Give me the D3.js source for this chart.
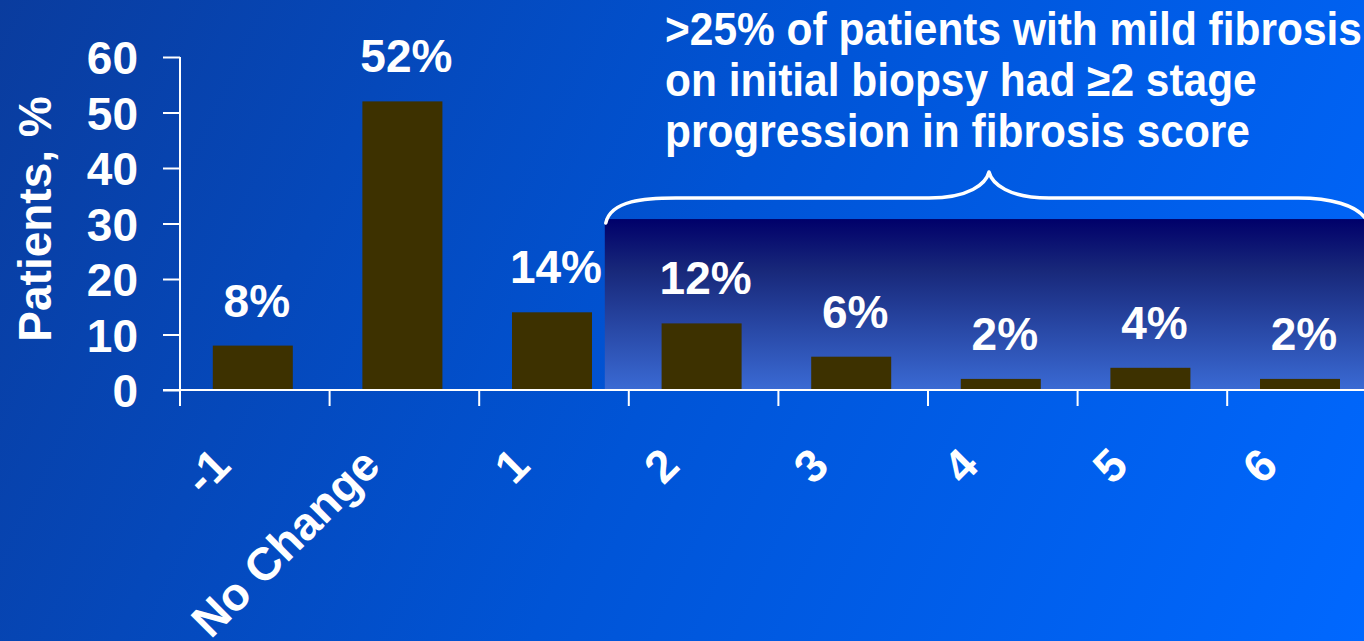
<!DOCTYPE html>
<html>
<head>
<meta charset="utf-8">
<script src="https://cdn.jsdelivr.net/npm/d3@7"></script>
<style>
  html, body { margin: 0; padding: 0; background: #0050d0; }
  svg { display: block; }
  text { font-family: "Liberation Sans", Arial, sans-serif; font-weight: bold; fill: #fff; }
</style>
</head>
<body>
<svg id="chart" width="1364" height="641"></svg>
<script>
// Change in fibrosis stage between biopsies
const categories = ["-1", "No Change", "1", "2", "3", "4", "5", "6"];
const values = [8, 52, 14, 12, 6, 2, 4, 2];
const yTicks = [0, 10, 20, 30, 40, 50, 60];
const yTitle = "Patients, %";
const calloutLines = [
  ">25% of patients with mild fibrosis",
  "on initial biopsy had \u22652 stage",
  "progression in fibrosis score"
];
// categories covered by the highlighted panel
const highlighted = ["2", "3", "4", "5", "6"];

const W = 1364, H = 641;
const svg = d3.select("#chart");
const defs = svg.append("defs");

const bg = defs.append("linearGradient").attr("id", "bg")
  .attr("gradientUnits", "userSpaceOnUse")
  .attr("x1", 0).attr("y1", 0).attr("x2", W).attr("y2", H);
bg.append("stop").attr("offset", 0).attr("stop-color", "#0a3c9e");
bg.append("stop").attr("offset", 0.5).attr("stop-color", "#0054d6");
bg.append("stop").attr("offset", 1).attr("stop-color", "#0068ff");

const panel = defs.append("linearGradient").attr("id", "panel")
  .attr("x1", 0).attr("y1", 0).attr("x2", 0).attr("y2", 1);
panel.append("stop").attr("offset", 0).attr("stop-color", "#00006a");
panel.append("stop").attr("offset", 0.3).attr("stop-color", "#18287a");
panel.append("stop").attr("offset", 1).attr("stop-color", "#3a6ad4");

svg.append("rect").attr("width", W).attr("height", H).attr("fill", "url(#bg)");

// scales
const x = d3.scaleBand().domain(categories).range([180, 180 + 8 * 149.6]).padding(0);
const y = d3.scaleLinear().domain([0, 60]).range([390, 57]);
const bw = x.bandwidth();
const barW = 80;

// highlighted panel behind the progression bars
const panelLeft = x(highlighted[0]) - 24;
svg.append("rect")
  .attr("x", panelLeft).attr("y", y(30.8))
  .attr("width", W - panelLeft).attr("height", y(0) - y(30.8))
  .attr("fill", "url(#panel)");

// bars
svg.append("g").selectAll("rect").data(values).join("rect")
  .attr("x", (d, i) => x(categories[i]) + bw / 2 - 2 - barW / 2)
  .attr("y", d => y(d))
  .attr("width", barW)
  .attr("height", d => y(0) - y(d))
  .attr("fill", "#3d3100");

// value labels
svg.append("g").selectAll("text").data(values).join("text")
  .attr("x", (d, i) => x(categories[i]) + bw / 2 + 2)
  .attr("y", d => y(d) - 29)
  .attr("text-anchor", "middle")
  .attr("font-size", 46)
  .text(d => d + "%");

// y axis
const yAxis = d3.axisLeft(y).tickValues(yTicks).tickSize(17).tickPadding(25).tickFormat(d3.format("d"));
const gy = svg.append("g").attr("transform", "translate(180,0)").call(yAxis);
gy.select(".domain").attr("stroke", "#fff").attr("stroke-width", 2)
  .attr("d", `M0,${y(60)}V${y(0)}`);
gy.selectAll(".tick line").attr("stroke", "#fff").attr("stroke-width", 2);
gy.selectAll(".tick text")
  .attr("font-size", 46).attr("font-family", "Liberation Sans, Arial, sans-serif")
  .attr("font-weight", "bold").attr("fill", "#fff").attr("dy", "0.36em");

// x axis line and boundary ticks
svg.append("line")
  .attr("x1", 163).attr("x2", W).attr("y1", y(0)).attr("y2", y(0))
  .attr("stroke", "#fff").attr("stroke-width", 2);
svg.append("g").selectAll("line").data(categories).join("line")
  .attr("x1", d => x(d)).attr("x2", d => x(d))
  .attr("y1", y(0)).attr("y2", y(0) + 16)
  .attr("stroke", "#fff").attr("stroke-width", 2);

// rotated category labels
svg.append("g").selectAll("text").data(categories).join("text")
  .attr("transform", d => `translate(${x(d) + bw / 2 - 22},468) rotate(-45)`)
  .attr("text-anchor", "end")
  .attr("font-size", 46)
  .text(d => d);

// y axis title
svg.append("text")
  .attr("transform", "translate(51,219) rotate(-90)")
  .attr("text-anchor", "middle")
  .attr("font-size", 46)
  .text(yTitle);

// curly brace over the highlighted categories
const bx0 = panelLeft + 1, bxTip = 989, bxEnd = W + 4;
const by = 198, byTip = 172, byEnd = 216;
const brace = d3.path();
brace.moveTo(bx0, by + 25);
brace.bezierCurveTo(bx0 + 5, by + 2, bx0 + 40, by, bx0 + 70, by);
brace.lineTo(bxTip - 60, by);
brace.bezierCurveTo(bxTip - 20, by, bxTip - 3, byTip + 12, bxTip, byTip);
brace.bezierCurveTo(bxTip + 3, byTip + 12, bxTip + 20, by, bxTip + 60, by);
brace.lineTo(bxEnd - 70, by);
brace.bezierCurveTo(bxEnd - 40, by, bxEnd - 10, by + 6, bxEnd, byEnd + 6);
svg.append("path").attr("d", brace.toString())
  .attr("fill", "none").attr("stroke", "#fff").attr("stroke-width", 3.5)
  .attr("stroke-linecap", "round").attr("stroke-linejoin", "round");

// callout text
const callout = svg.append("g").attr("transform", "translate(665,0) scale(0.923,1)");
callout.selectAll("text").data(calloutLines).join("text")
  .attr("x", 0)
  .attr("y", (d, i) => 45 + i * 51)
  .attr("font-size", 46)
  .text(d => d);
</script>
</body>
</html>
